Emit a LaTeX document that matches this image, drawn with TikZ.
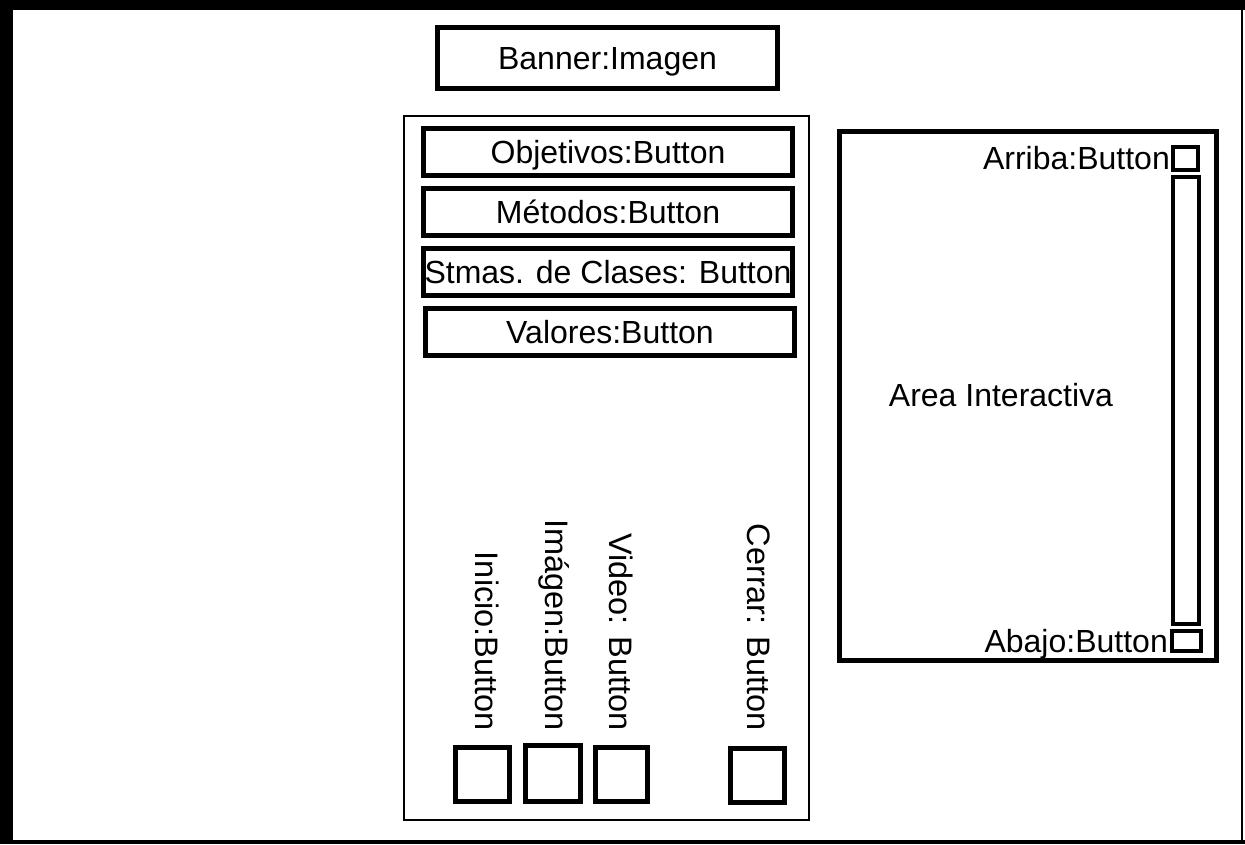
\documentclass[tikz,border=0pt]{standalone}
\usepackage{fontspec}
\setmainfont{Liberation Sans}
\begin{document}
\begin{tikzpicture}[x=1pt,y=-1pt,
  thickbox/.style={draw=black,line width=5pt,fill=white,inner sep=0pt,font=\fontsize{32}{38}\selectfont,text height=23pt,text depth=0pt},
  midbox/.style={draw=black,line width=4pt,fill=white,inner sep=0pt},
  thinbox/.style={draw=black,line width=1.5pt,inner sep=0pt},
  lbl/.style={inner sep=0pt,font=\fontsize{32}{38}\selectfont,text height=23pt,text depth=0pt},
  vlbl/.style={inner sep=0pt,rotate=-90,anchor=east,font=\fontsize{32.5}{38}\selectfont,text height=23pt,text depth=0pt}]
\useasboundingbox (0,0) rectangle (1245,844);
\fill[white] (0,0) rectangle (1245,844);
% outer frame
\fill[black] (0,0) rectangle (1245,10);
\fill[black] (0,0) rectangle (13,844);
\fill[black] (0,840) rectangle (1245,844);
\fill[black] (1241,0) rectangle (1243,844);
% banner
\node[thickbox,minimum width=340pt,minimum height=61pt] (banner) at (607.5,58) {Banner:Imagen};
% middle panel
\node[thinbox,minimum width=405pt,minimum height=704pt] (panel) at (606.5,468) {};
\node[thickbox,minimum width=369pt,minimum height=47pt] (obj) at (608,152) {Objetivos:Button};
\node[thickbox,minimum width=369pt,minimum height=47pt] (met) at (608,212) {Métodos:Button};
\node[thickbox,minimum width=369pt,minimum height=47pt] (stm) at (608,272) {Stmas. de Clases: Button};
\node[thickbox,minimum width=369pt,minimum height=47pt] (val) at (610,332) {Valores:Button};
% bottom square buttons
\node[thickbox,minimum width=54pt,minimum height=54pt] (inicio) at (482.5,774.5) {};
\node[thickbox,minimum width=55pt,minimum height=56pt] (imagen) at (553,773.5) {};
\node[thickbox,minimum width=52pt,minimum height=54pt] (video) at (621.5,774.5) {};
\node[thickbox,minimum width=54pt,minimum height=54pt] (cerrar) at (757.5,775.5) {};
\node[vlbl] (tinicio) at (487,731) {Inicio:Button};
\node[vlbl] (timagen) at (557,731) {Imágen:Button};
\node[vlbl] (tvideo) at (621,731) {Video: Button};
\node[vlbl] (tcerrar) at (759,731) {Cerrar: Button};
% right interactive area
\node[thickbox,minimum width=377pt,minimum height=529pt] (area) at (1028,396) {};
\node[lbl] (tarea) at (1001,395) {Area Interactiva};
\node[midbox,minimum width=25pt,minimum height=23pt] (arriba) at (1185.5,158.5) {};
\node[midbox,minimum width=26pt,minimum height=447pt] (scroll) at (1186,400.5) {};
\node[midbox,minimum width=29pt,minimum height=20pt] (abajo) at (1186.5,641) {};
\node[lbl,anchor=east] (tarriba) at (1170,158) {Arriba:Button};
\node[lbl,anchor=east] (tabajo) at (1168,641) {Abajo:Button};
\end{tikzpicture}
\end{document}
